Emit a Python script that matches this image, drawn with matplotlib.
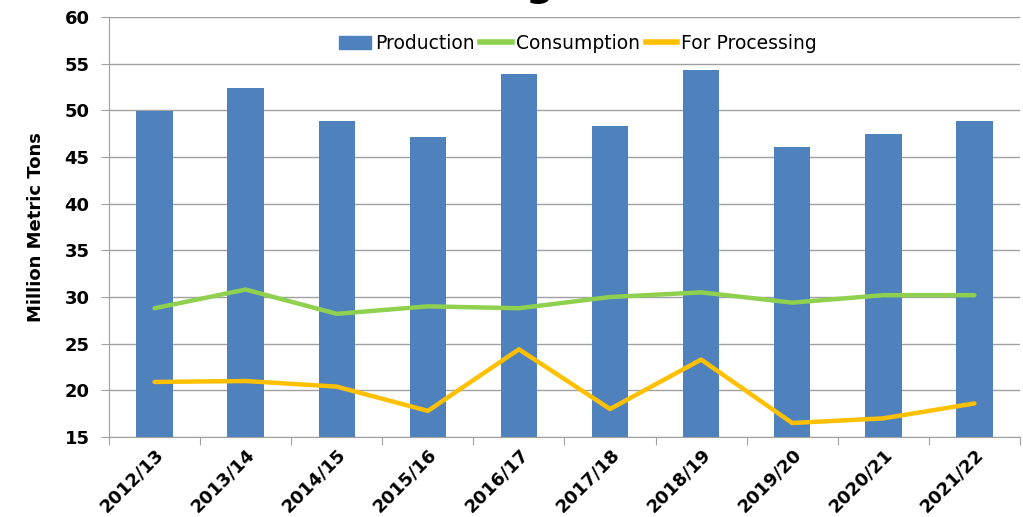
import matplotlib
matplotlib.use('Agg')
import matplotlib.pyplot as plt
import numpy as np
from matplotlib.lines import Line2D
from matplotlib.patches import Patch

# datos
years = ['2012/13', '2013/14', '2014/15', '2015/16', '2016/17',
         '2017/18', '2018/19', '2019/20', '2020/21', '2021/22']
production = [49.9, 52.4, 48.9, 47.1, 53.9, 48.3, 54.3, 46.1, 47.5, 48.9]
consumption = [28.8, 30.8, 28.2, 29.0, 28.8, 30.0, 30.5, 29.4, 30.2, 30.2]
processing = [20.9, 21.0, 20.4, 17.8, 24.4, 18.0, 23.3, 16.5, 17.0, 18.6]

blue = '#4F81BD'
green = '#8FD14F'
gold = '#FFC000'

fig = plt.figure(figsize=(10.23, 5.17), dpi=100)
ax = fig.add_axes([0.1066, 0.1547, 0.8904, 0.8123])

x = np.arange(len(years))
ax.bar(x, production, width=0.4, color=blue, zorder=2)
ax.plot(x, consumption, color=green, lw=3.2, solid_capstyle='round', zorder=3)
ax.plot(x, processing, color=gold, lw=3.2, solid_capstyle='round', zorder=3)

ax.set_ylim(15, 60)
ax.set_xlim(-0.5, len(years) - 0.5)
ax.set_yticks(range(15, 61, 5))
ax.yaxis.grid(True, color='#A0A0A0', lw=1)
ax.set_axisbelow(True)

# ticks del eje x entre categorias
ax.set_xticks(np.arange(-0.5, len(years), 1.0))
ax.set_xticklabels([])
ax.set_xticks(x, minor=True)
ax.set_xticklabels(years, minor=True, rotation=45, ha='right',
                   rotation_mode='anchor', fontsize=13, fontweight='bold')
ax.tick_params(axis='x', which='minor', length=0, pad=6)
ax.tick_params(axis='x', which='major', length=6, color='#A0A0A0')
ax.tick_params(axis='y', length=6, color='#A0A0A0', labelsize=13, pad=8)
for lab in ax.get_yticklabels():
    lab.set_fontweight('bold')

for s in ['top', 'right']:
    ax.spines[s].set_visible(False)
for s in ['left', 'bottom']:
    ax.spines[s].set_color('#A0A0A0')

ax.set_ylabel('Million Metric Tons', fontsize=13, fontweight='bold', labelpad=14)

handles = [Patch(color=blue, label='Production'),
           Line2D([], [], color=green, lw=4, label='Consumption'),
           Line2D([], [], color=gold, lw=4, label='For Processing')]
ax.legend(handles=handles, loc='upper center', bbox_to_anchor=(0.515, 1.0),
          ncol=3, frameon=False, fontsize=13.5, handlelength=1.7,
          handletextpad=0.2, columnspacing=0.3)

# titulo recortado arriba
fig.text(0.527, 1.008, 'g', fontsize=28, fontweight='bold', ha='center', va='baseline')

fig.savefig('out.png', dpi=100)
